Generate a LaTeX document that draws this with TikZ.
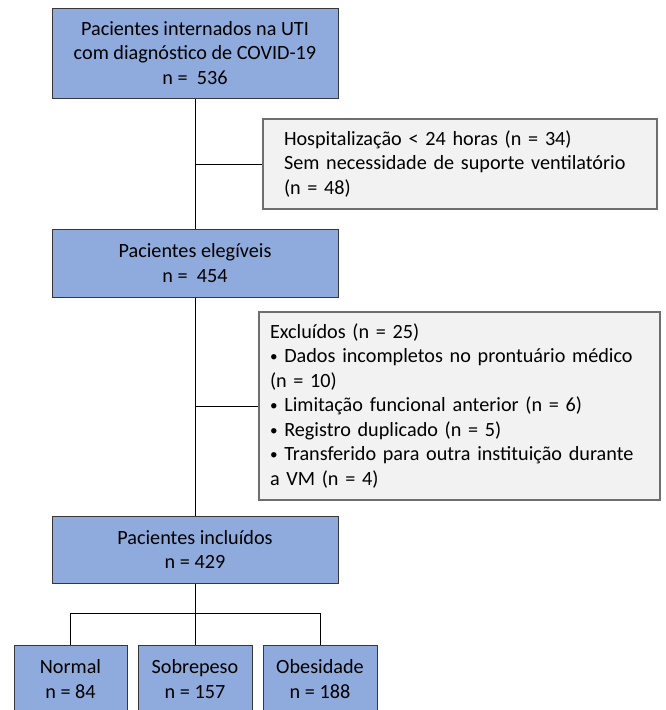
\documentclass[tikz,border=0pt]{standalone}
\usepackage{fontspec}
\usepackage{graphicx}
\setmainfont{Carlito}
\usetikzlibrary{calc}
\definecolor{boxblue}{RGB}{143,170,220}
\definecolor{boxgray}{RGB}{242,242,242}
\definecolor{edgegray}{RGB}{110,110,110}
\definecolor{edgedark}{RGB}{55,55,55}
\newcommand{\smbul}{\raisebox{1.2pt}{\scalebox{0.75}{•}}}
\begin{document}
\begin{tikzpicture}[x=1pt,y=-1pt,
  txt/.style={font=\fontsize{20.2}{24.5}\selectfont},
  bluebox/.style={txt, draw=edgedark, fill=boxblue, line width=1pt, align=center, inner sep=0pt},
  graybox/.style={txt, draw=edgegray, fill=boxgray, line width=1.1pt, align=left, inner ysep=0pt},
  conn/.style={draw=black, line width=1pt}]
\useasboundingbox (0,0) rectangle (665,710);
\clip (0,0) rectangle (665,710);

\node[bluebox, minimum width=286pt, minimum height=90pt] (top) at (195,53)
  {Pacientes internados na UTI\\com diagnóstico de COVID-19\\n = \ 536};
\node[bluebox, minimum width=286pt, minimum height=68pt] (eleg) at (195,263)
  {Pacientes elegíveis\\n = \ 454};
\node[bluebox, minimum width=286pt, minimum height=67pt] (incl) at (195,549.5)
  {Pacientes incluídos\\n = 429};

\node[graybox, inner xsep=21pt, text width=352pt, minimum height=90pt] (ex1) at (460,164)
  {Hospitalização < 24 horas (n = 34)\\Sem necessidade de suporte ventilatório\\(n = 48)};
\node[graybox, inner xsep=11pt, text width=379pt, minimum height=188pt] (ex2) at (459.5,406)
  {Excluídos (n = 25)\\\smbul{} Dados incompletos no prontuário médico\\(n = 10)\\\smbul{} Limitação funcional anterior (n = 6)\\\smbul{} Registro duplicado (n = 5)\\\smbul{} Transferido para outra instituição durante\\a VM (n = 4)};

\node[bluebox, minimum width=113pt, minimum height=68pt] (norm) at (70.5,679)
  {Normal\\n = 84};
\node[bluebox, minimum width=114pt, minimum height=68pt] (sobre) at (195,679)
  {Sobrepeso\\n = 157};
\node[bluebox, minimum width=114pt, minimum height=68pt] (obes) at (320,679)
  {Obesidade\\n = 188};

\draw[conn] (top.south) -- (eleg.north);
\draw[conn] (eleg.south) -- (incl.north);
\draw[conn] (ex1.west) -- (ex1.west -| top.south);
\draw[conn] (ex2.west) -- (ex2.west -| eleg.south);
\coordinate (split) at ($(incl.south)+(0,30)$);
\draw[conn] (incl.south) -- (sobre.north);
\draw[conn] (norm.north) |- (split) -| (obes.north);
\end{tikzpicture}
\end{document}
